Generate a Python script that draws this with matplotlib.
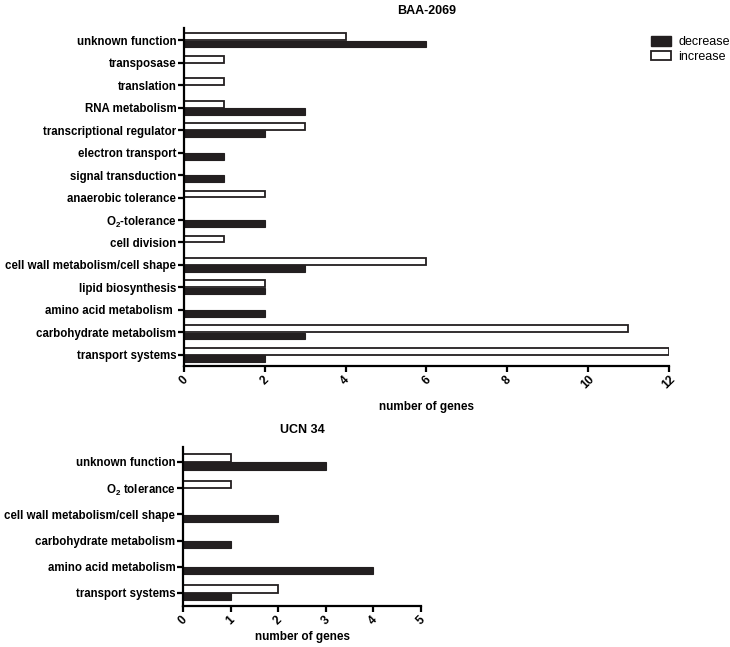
import numpy as np
import matplotlib
matplotlib.use("Agg")
import matplotlib.pyplot as plt
from matplotlib.patches import Patch

plt.rcParams['font.family'] = ['Liberation Sans', 'DejaVu Sans']
plt.rcParams['font.weight'] = 'bold'
plt.rcParams['mathtext.fontset'] = 'custom'
plt.rcParams['mathtext.rm'] = 'Liberation Sans:bold'
plt.rcParams['mathtext.bf'] = 'Liberation Sans:bold'

# BAA-2069, listed bottom to top
baa_cats = ['transport systems', 'carbohydrate metabolism', 'amino acid metabolism ',
            'lipid biosynthesis', 'cell wall metabolism/cell shape', 'cell division',
            'O$_{2}$-tolerance', 'anaerobic tolerance', 'signal transduction',
            'electron transport', 'transcriptional regulator', 'RNA metabolism',
            'translation', 'transposase', 'unknown function']
baa_decrease = [2, 3, 2, 2, 3, 0, 2, 0, 1, 1, 2, 3, 0, 0, 6]
baa_increase = [12, 11, 0, 2, 6, 1, 0, 2, 0, 0, 3, 1, 1, 1, 4]

# UCN 34, bottom to top
ucn_cats = ['transport systems', 'amino acid metabolism', 'carbohydrate metabolism',
            'cell wall metabolism/cell shape', 'O$_{2}$ tolerance', 'unknown function']
ucn_decrease = [1, 4, 1, 2, 0, 3]
ucn_increase = [2, 0, 0, 0, 1, 1]

dark = '#231f20'
fs = 8.3

fig = plt.figure(figsize=(7.3, 6.47), dpi=100)
ax1 = fig.add_axes([0.252, 0.4343, 0.664, 0.5224])
ax2 = fig.add_axes([0.2507, 0.0634, 0.326, 0.2457])


def draw(ax, cats, dec, inc, xmax, ymax, h, off, title, label_y):
    y = np.arange(len(cats))
    inc = np.array(inc, dtype=float)
    dec = np.array(dec, dtype=float)
    m = inc > 0
    ax.barh(y[m] + off, inc[m], height=h, color='white', edgecolor=dark, linewidth=1.3)
    m = dec > 0
    ax.barh(y[m] - off, dec[m], height=h, color=dark, edgecolor=dark, linewidth=0.8)
    ax.set_xlim(0, xmax)
    ax.set_ylim(-0.5, ymax)
    ax.set_yticks(y)
    ax.set_yticklabels(cats, fontsize=fs, fontweight='bold')
    ax.set_xticks(np.arange(0, xmax + 1, 2 if xmax > 6 else 1))
    for t in ax.get_xticklabels():
        t.set_rotation(45)
        t.set_fontsize(8.6)
        t.set_fontweight('bold')
        t.set_ha('center')
    for s in ['top', 'right']:
        ax.spines[s].set_visible(False)
    for s in ['left', 'bottom']:
        ax.spines[s].set_linewidth(1.6)
    ax.tick_params(axis='both', direction='out', length=4, width=1.6, pad=1.5)
    ax.set_title(title, fontsize=9, fontweight='bold', pad=10)
    ax.set_xlabel('number of genes', fontsize=8.5, fontweight='bold')
    ax.xaxis.set_label_coords(0.5, label_y)


draw(ax1, baa_cats, baa_decrease, baa_increase, 12, 14.55, 0.3, 0.16, 'BAA-2069', -0.105)
draw(ax2, ucn_cats, ucn_decrease, ucn_increase, 5, 5.57, 0.28, 0.15, 'UCN 34', -0.16)

handles = [Patch(facecolor=dark, edgecolor=dark, label='decrease'),
           Patch(facecolor='white', edgecolor=dark, linewidth=1.3, label='increase')]
fig.legend(handles=handles, loc='upper left', bbox_to_anchor=(646 / 730, 1 - 31 / 647),
           frameon=False, prop={'size': 9, 'weight': 'normal'}, handlelength=1.6,
           handleheight=0.8, labelspacing=0.2, handletextpad=0.6, borderaxespad=0)

fig.savefig('out.png', dpi=100)
